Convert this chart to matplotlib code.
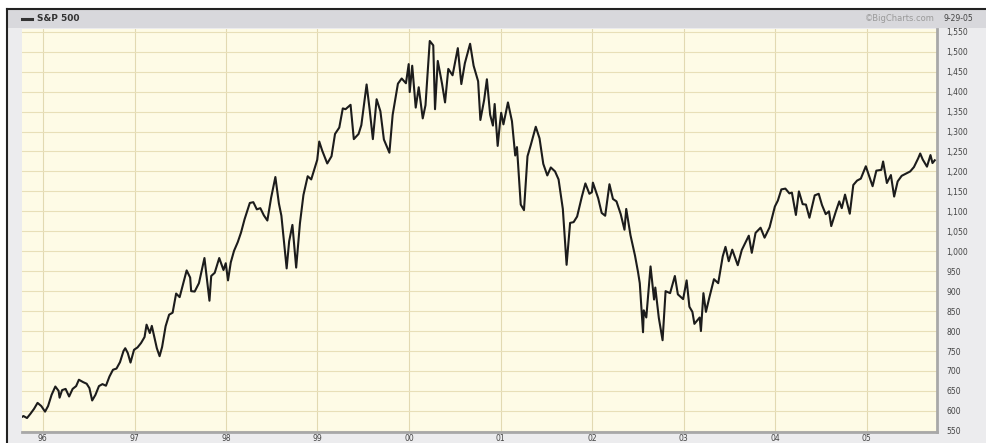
import matplotlib
matplotlib.use("Agg")
import matplotlib.pyplot as plt
from matplotlib.patches import Rectangle
from matplotlib.lines import Line2D
import pandas as pd

# S&P 500 (roughly two points a month)
dates_95_97 = ['1995-10-02', '1995-10-16', '1995-10-30', '1995-11-13', '1995-11-27', '1995-12-11', '1995-12-26',
               '1996-01-10', '1996-01-22', '1996-02-05', '1996-02-20', '1996-03-04', '1996-03-08', '1996-03-18',
               '1996-04-01', '1996-04-15', '1996-04-29', '1996-05-13', '1996-05-24', '1996-06-10', '1996-06-24',
               '1996-07-05', '1996-07-16', '1996-07-29', '1996-08-12', '1996-08-26', '1996-09-09', '1996-09-23',
               '1996-10-07', '1996-10-21', '1996-11-04', '1996-11-18', '1996-11-25', '1996-12-05', '1996-12-16',
               '1996-12-30',
               '1997-01-13', '1997-01-27', '1997-02-10', '1997-02-18', '1997-03-03', '1997-03-11', '1997-03-31',
               '1997-04-11', '1997-04-21', '1997-05-05', '1997-05-19', '1997-06-02', '1997-06-16', '1997-06-30',
               '1997-07-14', '1997-07-28', '1997-08-11', '1997-08-15', '1997-08-29', '1997-09-15', '1997-10-07',
               '1997-10-27', '1997-11-03', '1997-11-17', '1997-12-05', '1997-12-22', '1997-12-31']
values_95_97 = [582, 587, 582, 593, 605, 620, 612,
                598, 612, 640, 661, 650, 633, 652,
                655, 636, 655, 662, 678, 672, 668,
                657, 626, 640, 662, 667, 663, 686,
                703, 706, 722, 750, 757, 745, 721,
                753,
                759, 770, 785, 816, 795, 813, 757,
                737, 760, 812, 841, 846, 894, 885,
                918, 952, 934, 900, 899, 920, 983,
                876, 938, 946, 983, 953, 970]

dates_98_00 = ['1998-01-09', '1998-01-20', '1998-02-02', '1998-02-17', '1998-03-02', '1998-03-16', '1998-04-06',
               '1998-04-20', '1998-05-04', '1998-05-18', '1998-06-01', '1998-06-15', '1998-06-30', '1998-07-17',
               '1998-07-31', '1998-08-10', '1998-08-31', '1998-09-10', '1998-09-23', '1998-10-08', '1998-10-23',
               '1998-11-06', '1998-11-23', '1998-12-07', '1998-12-31',
               '1999-01-08', '1999-01-20', '1999-02-09', '1999-02-26', '1999-03-12', '1999-03-29', '1999-04-12',
               '1999-04-23', '1999-05-13', '1999-05-26', '1999-06-14', '1999-06-25', '1999-07-16', '1999-07-28',
               '1999-08-10', '1999-08-25', '1999-09-09', '1999-09-23', '1999-10-15', '1999-10-28', '1999-11-18',
               '1999-12-03', '1999-12-20', '1999-12-31',
               '2000-01-04', '2000-01-14', '2000-01-28', '2000-02-09', '2000-02-25', '2000-03-07', '2000-03-24',
               '2000-04-07', '2000-04-14', '2000-04-25', '2000-05-12', '2000-05-24', '2000-06-06', '2000-06-23',
               '2000-07-14', '2000-07-28', '2000-08-11', '2000-09-01', '2000-09-15', '2000-10-03', '2000-10-12',
               '2000-10-27', '2000-11-07', '2000-11-20', '2000-12-01', '2000-12-08', '2000-12-20', '2000-12-29']
values_98_00 = [927, 972, 1001, 1023, 1047, 1080, 1121,
                1123, 1105, 1108, 1090, 1077, 1134, 1186,
                1120, 1089, 957, 1025, 1066, 959, 1070,
                1141, 1188, 1180, 1229,
                1275, 1252, 1220, 1238, 1294, 1310, 1358,
                1356, 1367, 1281, 1294, 1316, 1418, 1356,
                1281, 1381, 1351, 1280, 1247, 1342, 1420,
                1433, 1421, 1469,
                1399, 1465, 1360, 1411, 1333, 1366, 1527,
                1516, 1356, 1477, 1420, 1373, 1457, 1441,
                1509, 1419, 1471, 1520, 1465, 1426, 1329,
                1379, 1431, 1342, 1315, 1369, 1264, 1320]

dates_01_03 = ['2001-01-03', '2001-01-12', '2001-01-30', '2001-02-15', '2001-02-28', '2001-03-07', '2001-03-22',
               '2001-04-04', '2001-04-18', '2001-05-01', '2001-05-21', '2001-06-05', '2001-06-20', '2001-07-06',
               '2001-07-20', '2001-08-06', '2001-08-20', '2001-09-06', '2001-09-21', '2001-10-05', '2001-10-19',
               '2001-11-02', '2001-11-21', '2001-12-05', '2001-12-21', '2001-12-31',
               '2002-01-04', '2002-01-25', '2002-02-08', '2002-02-22', '2002-03-11', '2002-03-25', '2002-04-08',
               '2002-04-25', '2002-05-10', '2002-05-17', '2002-06-03', '2002-06-21', '2002-07-03', '2002-07-10',
               '2002-07-23', '2002-07-26', '2002-08-05', '2002-08-22', '2002-09-05', '2002-09-10', '2002-09-24',
               '2002-10-09', '2002-10-21', '2002-11-08', '2002-11-27', '2002-12-09', '2002-12-30',
               '2003-01-13', '2003-01-24', '2003-02-05', '2003-02-13', '2003-03-06', '2003-03-11', '2003-03-21',
               '2003-03-31', '2003-04-14', '2003-05-02', '2003-05-19', '2003-06-06', '2003-06-17', '2003-06-30',
               '2003-07-14', '2003-08-05', '2003-08-21', '2003-09-18', '2003-09-30', '2003-10-15', '2003-11-04',
               '2003-11-20', '2003-12-10', '2003-12-31']
values_01_03 = [1347, 1318, 1373, 1326, 1240, 1261, 1117,
                1103, 1238, 1266, 1312, 1283, 1219, 1190,
                1210, 1200, 1180, 1106, 966, 1071, 1073,
                1087, 1137, 1170, 1144, 1148,
                1172, 1133, 1096, 1089, 1168, 1131, 1125,
                1093, 1054, 1106, 1040, 989, 948, 920,
                797, 852, 834, 962, 879, 909, 833,
                777, 900, 895, 938, 892, 880,
                927, 861, 848, 818, 834, 800, 895,
                848, 885, 930, 920, 987, 1011, 975,
                1004, 965, 1003, 1039, 996, 1046, 1059,
                1034, 1060, 1112]

dates_04_05 = ['2004-01-12', '2004-01-26', '2004-02-11', '2004-02-27', '2004-03-08', '2004-03-24', '2004-04-05',
               '2004-04-20', '2004-05-03', '2004-05-17', '2004-06-07', '2004-06-23', '2004-07-06', '2004-07-21',
               '2004-08-03', '2004-08-12', '2004-08-30', '2004-09-13', '2004-09-23', '2004-10-06', '2004-10-25',
               '2004-11-08', '2004-11-23', '2004-12-08', '2004-12-28',
               '2005-01-03', '2005-01-24', '2005-02-08', '2005-02-28', '2005-03-07', '2005-03-22', '2005-04-07',
               '2005-04-20', '2005-05-04', '2005-05-20', '2005-06-08', '2005-06-23', '2005-07-08', '2005-07-25',
               '2005-08-02', '2005-08-12', '2005-08-29', '2005-09-12', '2005-09-20', '2005-09-29']
values_04_05 = [1127, 1155, 1157, 1145, 1147, 1091, 1150,
                1118, 1117, 1084, 1140, 1144, 1116, 1093,
                1100, 1063, 1099, 1125, 1108, 1142, 1094,
                1166, 1177, 1182, 1213,
                1202, 1163, 1202, 1204, 1225, 1171, 1191,
                1137, 1175, 1189, 1195, 1200, 1211, 1233,
                1245, 1230, 1212, 1241, 1221, 1228]

year_labels = ['96', '97', '98', '99', '00', '01', '02', '03', '04', '05']
price_ticks = list(range(550, 1551, 50))

dates = pd.to_datetime(dates_95_97 + dates_98_00 + dates_01_03 + dates_04_05)
values = values_95_97 + values_98_00 + values_01_03 + values_04_05

W, H = 987, 443
fig = plt.figure(figsize=(W / 100, H / 100), dpi=100)
fig.patch.set_facecolor('white')

def px(x, y, w, h):
    # pixel box (top-left origin) -> figure fraction
    return [x / W, 1 - (y + h) / H, w / W, h / H]

# gray frame, header bar, black border
fig.patches.append(Rectangle((8 / W, 0), (W - 8) / W, (H - 10) / H, transform=fig.transFigure,
                             facecolor='#ececee', edgecolor='none', zorder=-2))
fig.patches.append(Rectangle((8 / W, 1 - 28 / H), (W - 8) / W, 18 / H, transform=fig.transFigure,
                             facecolor='#d8d8dc', edgecolor='none', zorder=-1))
fig.lines.append(Line2D([7 / W, 1], [1 - 9 / H, 1 - 9 / H], transform=fig.transFigure, color='#222', lw=1.5))
fig.lines.append(Line2D([7 / W, 7 / W], [0, 1 - 9 / H], transform=fig.transFigure, color='#222', lw=1.5))

fig.lines.append(Line2D([22 / W, 32 / W], [1 - 18.5 / H, 1 - 18.5 / H], transform=fig.transFigure,
                        color='#333', lw=2.2))
fig.text(37 / W, 1 - 18.5 / H, 'S&P 500', fontsize=6.5, fontweight='bold', color='#333', va='center')
fig.text(935 / W, 1 - 18.5 / H, '\u00a9BigCharts.com', fontsize=6, color='#9a9a9a', va='center', ha='right')
fig.text(944 / W, 1 - 18.5 / H, '9-29-05', fontsize=5.5, color='#444', va='center')

ax = fig.add_axes(px(22, 29, 915, 403))
ax.set_zorder(1)
ax.set_facecolor('#fefbe6')
ax.plot(dates, values, color='#1c1c1c', lw=1.5, zorder=3)

ax.set_xlim(pd.Timestamp('1995-10-10'), pd.Timestamp('2005-10-08'))
ax.set_ylim(547, 1557)

ax.set_yticks(price_ticks)
ax.set_yticklabels(['{:,}'.format(v) for v in price_ticks])
ax.yaxis.tick_right()
ax.set_xticks(pd.to_datetime(['%d-01-01' % y for y in range(1996, 2006)]))
ax.set_xticklabels(year_labels)
ax.tick_params(axis='y', length=0, pad=6.5, labelsize=5.5, labelcolor='#444')
ax.tick_params(axis='x', length=0, pad=1.5, labelsize=5.5, labelcolor='#444')

ax.grid(True, axis='y', color='#e8dfb8', lw=0.8)
ax.grid(True, axis='x', color='#e2d9b2', lw=0.8)
ax.set_axisbelow(True)

for s in ['top', 'left']:
    ax.spines[s].set_visible(False)
for s in ['bottom', 'right']:
    ax.spines[s].set_color('#a8a8a8')
    ax.spines[s].set_linewidth(2.0)

fig.savefig('out.png', dpi=100)
